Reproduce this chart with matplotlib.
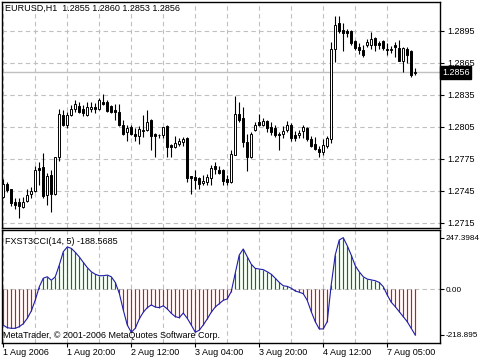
import matplotlib
matplotlib.use('Agg')
import matplotlib.pyplot as plt
import matplotlib.transforms as mtransforms
import numpy as np

# EURUSD H1 candles
opens = [1.2739, 1.2751, 1.2747, 1.2734, 1.2734, 1.2730, 1.2735, 1.2742, 1.2745, 1.2766,
         1.2767, 1.2741, 1.2760, 1.2742, 1.2777, 1.2816, 1.2807, 1.2816, 1.2822, 1.2824,
         1.2822, 1.2816, 1.2822, 1.2823, 1.2822, 1.2828, 1.2828, 1.2824, 1.2821, 1.2819,
         1.2807, 1.2800, 1.2805, 1.2798, 1.2796, 1.2801, 1.2802, 1.2811, 1.2798, 1.2797,
         1.2797, 1.2806, 1.2788, 1.2786, 1.2789, 1.2791, 1.2794, 1.2759, 1.2758, 1.2757,
         1.2752, 1.2753, 1.2757, 1.2768, 1.2764, 1.2764, 1.2756, 1.2753, 1.2778, 1.2817,
         1.2813, 1.2791, 1.2777, 1.2802, 1.2809, 1.2807, 1.2810, 1.2805, 1.2804, 1.2798,
         1.2798, 1.2802, 1.2807, 1.2797, 1.2797, 1.2801, 1.2804, 1.2793, 1.2789, 1.2784,
         1.2781, 1.2787, 1.2793, 1.2878, 1.2902, 1.2896, 1.2895, 1.2895, 1.2885, 1.2880,
         1.2877, 1.2882, 1.2882, 1.2888, 1.2883, 1.2885, 1.2878, 1.2877, 1.2882, 1.2879,
         1.2867, 1.2878, 1.2876, 1.2855]
highs = [1.2756, 1.2753, 1.2747, 1.2738, 1.2738, 1.2739, 1.2747, 1.2748, 1.2768, 1.2772,
         1.2780, 1.2762, 1.2764, 1.2777, 1.2822, 1.2821, 1.2819, 1.2825, 1.2830, 1.2828,
         1.2825, 1.2828, 1.2828, 1.2827, 1.2832, 1.2836, 1.2830, 1.2825, 1.2826, 1.2826,
         1.2811, 1.2807, 1.2807, 1.2804, 1.2806, 1.2816, 1.2821, 1.2812, 1.2799, 1.2798,
         1.2805, 1.2807, 1.2789, 1.2796, 1.2794, 1.2795, 1.2795, 1.2759, 1.2764, 1.2758,
         1.2760, 1.2761, 1.2769, 1.2772, 1.2768, 1.2765, 1.2760, 1.2783, 1.2834, 1.2828,
         1.2823, 1.2798, 1.2800, 1.2809, 1.2817, 1.2813, 1.2811, 1.2809, 1.2807, 1.2800,
         1.2806, 1.2810, 1.2808, 1.2801, 1.2802, 1.2807, 1.2805, 1.2796, 1.2795, 1.2787,
         1.2793, 1.2796, 1.2884, 1.2909, 1.2909, 1.2902, 1.2897, 1.2896, 1.2886, 1.2883,
         1.2882, 1.2887, 1.2894, 1.2889, 1.2885, 1.2886, 1.2883, 1.2881, 1.2884, 1.2886,
         1.2880, 1.2880, 1.2877, 1.2860]
lows = [1.2738, 1.2744, 1.2731, 1.2728, 1.2719, 1.2729, 1.2734, 1.2738, 1.2744, 1.2750,
        1.2738, 1.2732, 1.2725, 1.2741, 1.2773, 1.2806, 1.2804, 1.2815, 1.2819, 1.2818,
        1.2815, 1.2815, 1.2819, 1.2818, 1.2821, 1.2825, 1.2819, 1.2818, 1.2811, 1.2806,
        1.2797, 1.2792, 1.2797, 1.2792, 1.2789, 1.2795, 1.2801, 1.2783, 1.2777, 1.2794,
        1.2794, 1.2777, 1.2777, 1.2785, 1.2787, 1.2787, 1.2753, 1.2742, 1.2747, 1.2747,
        1.2750, 1.2750, 1.2750, 1.2761, 1.2761, 1.2750, 1.2750, 1.2752, 1.2778, 1.2809,
        1.2786, 1.2763, 1.2776, 1.2801, 1.2806, 1.2806, 1.2800, 1.2797, 1.2795, 1.2783,
        1.2794, 1.2800, 1.2792, 1.2792, 1.2794, 1.2794, 1.2792, 1.2786, 1.2783, 1.2777,
        1.2778, 1.2785, 1.2790, 1.2866, 1.2893, 1.2876, 1.2889, 1.2882, 1.2877, 1.2873,
        1.2870, 1.2880, 1.2878, 1.2876, 1.2878, 1.2877, 1.2872, 1.2874, 1.2870, 1.2867,
        1.2856, 1.2865, 1.2852, 1.2853]
closes = [1.2751, 1.2746, 1.2733, 1.2732, 1.2731, 1.2734, 1.2741, 1.2745, 1.2764, 1.2764,
          1.2740, 1.2759, 1.2742, 1.2777, 1.2817, 1.2807, 1.2816, 1.2822, 1.2826, 1.2819,
          1.2818, 1.2823, 1.2823, 1.2822, 1.2830, 1.2826, 1.2820, 1.2819, 1.2819, 1.2807,
          1.2798, 1.2804, 1.2798, 1.2796, 1.2803, 1.2802, 1.2809, 1.2796, 1.2796, 1.2797,
          1.2805, 1.2786, 1.2786, 1.2790, 1.2792, 1.2793, 1.2757, 1.2757, 1.2755, 1.2751,
          1.2754, 1.2758, 1.2766, 1.2765, 1.2762, 1.2754, 1.2753, 1.2779, 1.2817, 1.2811,
          1.2791, 1.2777, 1.2798, 1.2807, 1.2807, 1.2810, 1.2804, 1.2800, 1.2797, 1.2797,
          1.2801, 1.2807, 1.2794, 1.2794, 1.2799, 1.2805, 1.2793, 1.2787, 1.2784, 1.2781,
          1.2788, 1.2794, 1.2878, 1.2900, 1.2895, 1.2893, 1.2893, 1.2883, 1.2879, 1.2877,
          1.2872, 1.2884, 1.2887, 1.2882, 1.2882, 1.2879, 1.2877, 1.2878, 1.2880, 1.2867,
          1.2879, 1.2872, 1.2853, 1.2856]

# FXST3CCI(14, 5) values per bar
cci = [-172, -184, -187, -187, -179, -165, -139, -104, -51, 12,
       53, 60, 43, 60, 116, 180, 203, 196, 177, 155,
       129, 104, 84, 72, 65, 65, 68, 60, 33, -19,
       -99, -171, -206, -187, -142, -110, -88, -75, -85, -88,
       -79, -94, -115, -131, -136, -114, -139, -171, -206, -196,
       -171, -142, -110, -85, -69, -53, -46, -11, 77, 164,
       193, 156, 120, 100, 97, 94, 84, 72, 53, 33,
       17, 14, 5, -8, -14, -21, -53, -107, -155, -190,
       -190, -155, 21, 164, 236, 247.3984, 209, 164, 113, 84,
       60, 49, 45, 41, 33, 13, -27, -62, -83, -107,
       -131, -155, -187, -218.895]

price_levels = [1.2715, 1.2745, 1.2775, 1.2805, 1.2835, 1.2865, 1.2895]
time_labels = ['1 Aug 2006', '1 Aug 20:00', '2 Aug 12:00', '3 Aug 04:00',
               '3 Aug 20:00', '4 Aug 12:00', '7 Aug 05:00']
cci_levels = [-218.895, 0.0, 247.3984]
cci_labels = ['-218.895', '0.00', '247.3984']
last_price = 1.2856

plt.rcParams['font.family'] = ['Liberation Sans', 'DejaVu Sans']
FS = 6.5
GRID = dict(color='#c0c0c0', linestyle=(0, (4, 3)), linewidth=0.8)

W, H = 480, 360
def box(l, t, r, b):
    return [l / W, 1 - b / H, (r - l) / W, (b - t) / H]

fig = plt.figure(figsize=(4.8, 3.6), dpi=100)
ax = fig.add_axes(box(2, 2, 440, 228))
ax2 = fig.add_axes(box(2, 230, 440, 342.5))

o = np.array(opens); c = np.array(closes)
x = np.arange(len(c))
up = c >= o

# candles
ax.vlines(x, lows, highs, color='black', lw=0.8, zorder=2)
ax.bar(x, np.abs(c - o), bottom=np.minimum(o, c), width=0.55,
       color=np.where(up, 'white', 'black'), edgecolor='black', linewidth=0.7, zorder=3)
ax.axhline(last_price, color='#c0c0c0', lw=1, zorder=1)

xlim = (-0.325, 109.2)
for a in (ax, ax2):
    a.set_xlim(*xlim)
    a.set_xticks(range(0, 104, 16))
    a.set_xticks(range(8, 104, 16), minor=True)
    a.grid(True, which='both', axis='x', **GRID)
    a.set_axisbelow(True)
    for s in a.spines.values():
        s.set_color('black')
        s.set_linewidth(1)
    a.yaxis.tick_right()
    a.tick_params(axis='y', direction='out', length=3, width=0.8, pad=2, labelsize=FS)
    a.tick_params(axis='x', which='both', length=0)
    a.set_xticklabels([])

ax.set_ylim(1.2710, 1.29219)
ax.set_yticks(price_levels)
ax.set_yticklabels(['%.4f' % p for p in price_levels])
ax.grid(True, axis='y', **GRID)

tr = mtransforms.blended_transform_factory(ax.transAxes, ax.transData)
ax.text(1 + 2 / 438, last_price, '1.2856', transform=tr, fontsize=FS, color='white',
        va='center', ha='left', clip_on=False, zorder=10,
        bbox=dict(boxstyle='square,pad=0.2', fc='black', ec='black'))

# indicator
ax2.vlines(x, 0, cci, colors=['#008000' if v >= 0 else '#d01818' for v in cci],
           lw=0.85, zorder=2)
ax2.plot(x, cci, color='#1c1ca8', lw=0.8, zorder=3)
ax2.axhline(0, **GRID, zorder=1)
ax2.set_ylim(-255, 284)
ax2.set_yticks(cci_levels)
ax2.set_yticklabels(cci_labels)
ax2.tick_params(axis='y', pad=1, labelsize=5.9)
ax2.set_xticklabels(time_labels)
ax2.tick_params(axis='x', which='major', length=3, width=0.8, pad=1, labelsize=FS)
for lab in ax2.get_xticklabels():
    lab.set_ha('left')

fig.text(5 / W, 1 - 8 / H, 'EURUSD,H1  1.2855 1.2860 1.2853 1.2856', fontsize=FS, va='center')
fig.text(5 / W, 1 - 241 / H, 'FXST3CCI(14, 5) -188.5685', fontsize=FS, va='center')
fig.text(3 / W, 1 - 335 / H, 'MetaTrader, \u00a9 2001-2006 MetaQuotes Software Corp.',
         fontsize=FS, va='center', zorder=10)

fig.savefig('out.png', dpi=100, facecolor='white')
